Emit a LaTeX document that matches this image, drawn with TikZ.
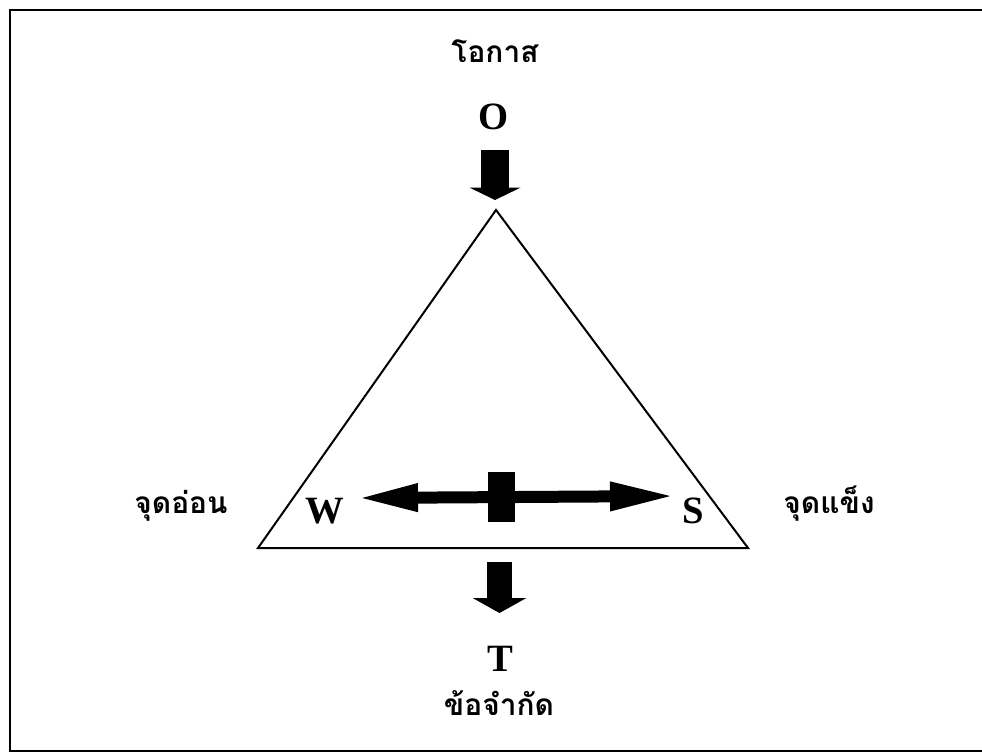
\documentclass[tikz,border=0pt]{standalone}
\usepackage{fontspec}
\setmainfont{Liberation Serif}
\newfontfamily\thaifont[Script=Thai]{Loma}
\usetikzlibrary{arrows.meta}

\begin{document}
\begin{tikzpicture}[
    x=0.02cm, y=-0.02cm,
    letter/.style={font=\fontsize{22}{24}\selectfont\bfseries, inner sep=0pt},
    thaitext/.style={font=\thaifont\fontsize{17}{20}\selectfont\bfseries, inner sep=0pt},
    edge/.style={line width=0.04cm, line join=miter},
    downarrow/.style={line width=0.56cm, -{Triangle[length=0.25cm, width=1.02cm]}},
    lowarrow/.style={line width=0.5cm, -{Triangle[length=0.3cm, width=1.06cm]}},
    sidearrow/.style={line width=0.24cm, {Triangle[length=1.26cm, width=0.5cm]}-{Triangle[length=1.34cm, width=0.52cm]}}
]
\useasboundingbox (0,0) rectangle (982,754);
% frame
\draw[edge] (982,10) -- (10,10) -- (10,751) -- (982,751);

% labels
\node[thaitext] (optext) at (495,51) {โอกาส};
\node[letter] (O) at (494,117) {O};
\node[thaitext] (wtext) at (181,506) {จุดอ่อน};
\node[thaitext] (stext) at (829,504) {จุดแข็ง};
\node[letter] (W) at (325,511) {W};
\node[letter] (S) at (693,511) {S};
\node[letter] (T) at (500,659) {T};
\node[thaitext] (ttext) at (499,703) {ข้อจำกัด};

% triangle
\coordinate (apex) at (496,210);
\coordinate (bl) at (258,548);
\coordinate (br) at (748,548);
\draw[edge] (apex) -- (bl) -- (br) -- cycle;

% arrows
\coordinate (otop) at (495,150);
\coordinate (obot) at (495,200);
\coordinate (ttop) at (499.5,562);
\coordinate (tbot) at (499.5,613);
\coordinate (wtip) at (355,498);
\coordinate (stip) at (677,496);
\draw[downarrow] (otop) -- (obot);
\draw[lowarrow] (ttop) -- (tbot);
\draw[sidearrow] (wtip) -- (stip);
\node[fill, minimum width=0.54cm, minimum height=1cm, inner sep=0pt] (mid) at (501.5,497) {};
\end{tikzpicture}
\end{document}
